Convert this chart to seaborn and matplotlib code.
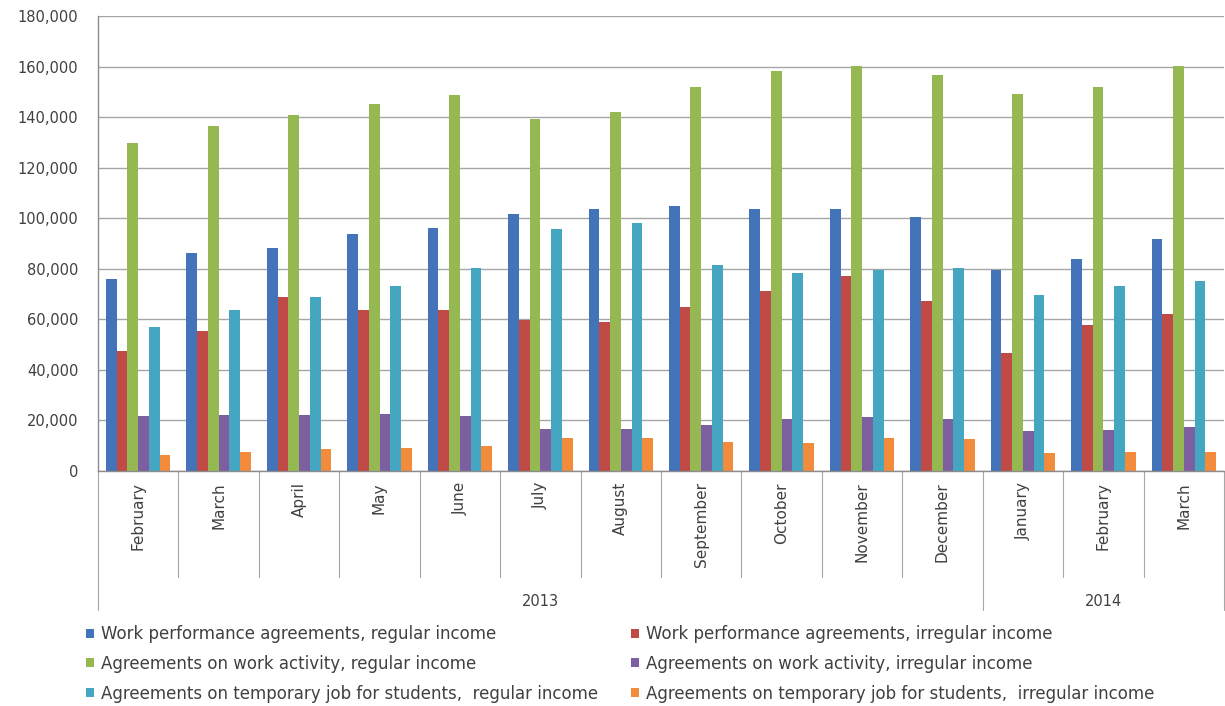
import matplotlib
matplotlib.use("Agg")
import matplotlib.pyplot as plt
import matplotlib.ticker as mticker
import seaborn as sns
import pandas as pd

months = ["February", "March", "April", "May", "June", "July", "August",
          "September", "October", "November", "December",
          "January", "February", "March"]
years = ["2013"] * 11 + ["2014"] * 3
series = [
    "Work performance agreements, regular income",
    "Work performance agreements, irregular income",
    "Agreements on work activity, regular income",
    "Agreements on work activity, irregular income",
    "Agreements on temporary job for students,  regular income",
    "Agreements on temporary job for students,  irregular income",
]
wpa_regular = [75900, 86200, 88400, 93700, 96300, 101700, 103600, 104900, 103700, 103600, 100400, 79600, 83900, 91800]
wpa_irregular = [47600, 55500, 68700, 63600, 63600, 59600, 58800, 64700, 71300, 77000, 67400, 46700, 57900, 62100]
awa_regular = [129600, 136400, 141000, 145000, 148700, 139200, 142100, 152000, 158200, 160300, 156600, 149000, 152000, 160200]
awa_irregular = [21600, 22100, 22100, 22400, 21600, 16800, 16800, 18300, 20700, 21400, 20700, 15800, 16400, 17400]
stud_regular = [57100, 63800, 68700, 73300, 80300, 95800, 98300, 81600, 78300, 79600, 80300, 69500, 73000, 75300]
stud_irregular = [6200, 7500, 8550, 8950, 9900, 12900, 12900, 11600, 11050, 12900, 12500, 7000, 7500, 7500]
values = [wpa_regular, wpa_irregular, awa_regular, awa_irregular, stud_regular, stud_irregular]
colors = ["#4373B8", "#BF4A46", "#96B852", "#7C5FA0", "#45A6C2", "#F38B3C"]

periods = [f"{m} {y}" for m, y in zip(months, years)]
rows = []
for s, vals in zip(series, values):
    for p, v in zip(periods, vals):
        rows.append({"period": p, "series": s, "value": v})
df = pd.DataFrame(rows)

sns.set_style("white")
plt.rcParams["font.family"] = ["DejaVu Sans"]

W, H = 1225, 706
fig = plt.figure(figsize=(W / 100, H / 100), dpi=100)
left, right, top, bottom = 98, 1224, 16, 471
ax = fig.add_axes([left / W, 1 - bottom / H, (right - left) / W, (bottom - top) / H])

sns.barplot(data=df, x="period", y="value", hue="series", order=periods,
            hue_order=series, palette=colors, saturation=1, width=0.8,
            ax=ax, errorbar=None, linewidth=0, edgecolor="none")

handles, labels = ax.get_legend_handles_labels()
ax.get_legend().remove()

ax.set_ylim(0, 180000)
ax.set_xlim(-0.5, len(periods) - 0.5)
ax.yaxis.set_major_locator(mticker.MultipleLocator(20000))
ax.yaxis.set_major_formatter(mticker.FuncFormatter(lambda v, p: f"{int(v):,}"))
ax.grid(axis="y", color="#A6A6A6", linewidth=1)
ax.set_axisbelow(True)
for side in ["top", "right"]:
    ax.spines[side].set_visible(False)
for side in ["left", "bottom"]:
    ax.spines[side].set_color("#8C8C8C")
    ax.spines[side].set_linewidth(1)
ax.tick_params(axis="y", length=4, color="#8C8C8C", labelsize=10.5,
               labelcolor="#404040", pad=10)
ax.set_xticks([])
ax.set_xlabel("")
ax.set_ylabel("")

trans = ax.get_xaxis_transform()
ah = bottom - top
short_y = -(577 - bottom) / ah
long_y = -(610 - bottom) / ah
for i in range(len(periods)):
    ax.text(i, -(482 - bottom) / ah, months[i], transform=trans, rotation=90,
            ha="center", va="top", fontsize=11, color="#404040")
# separators
for i in range(len(periods) + 1):
    b = i - 0.5
    is_long = i == 0 or i == len(periods) or years[i] != years[i - 1]
    ax.plot([b, b], [0, long_y if is_long else short_y], transform=trans,
            color="#A6A6A6", linewidth=0.8, clip_on=False)
# year labels
yr_groups = []
for i, y in enumerate(years):
    if not yr_groups or yr_groups[-1][0] != y:
        yr_groups.append([y, i, i])
    else:
        yr_groups[-1][2] = i
for y, a, b in yr_groups:
    ax.text((a + b) / 2, -(602 - bottom) / ah, y, transform=trans, ha="center",
            va="center", fontsize=10.5, color="#404040")

order = [0, 2, 4, 1, 3, 5]
leg = fig.legend([handles[k] for k in order], [labels[k] for k in order],
                 ncol=2, loc="upper left", bbox_to_anchor=(86 / W, 1 - 625 / H),
                 frameon=False, fontsize=12, handlelength=0.45, handleheight=0.45,
                 handletextpad=0.45, columnspacing=2.0, labelspacing=0.71,
                 borderaxespad=0, borderpad=0)
for t in leg.get_texts():
    t.set_color("#404040")

fig.savefig("out.png", dpi=100)
